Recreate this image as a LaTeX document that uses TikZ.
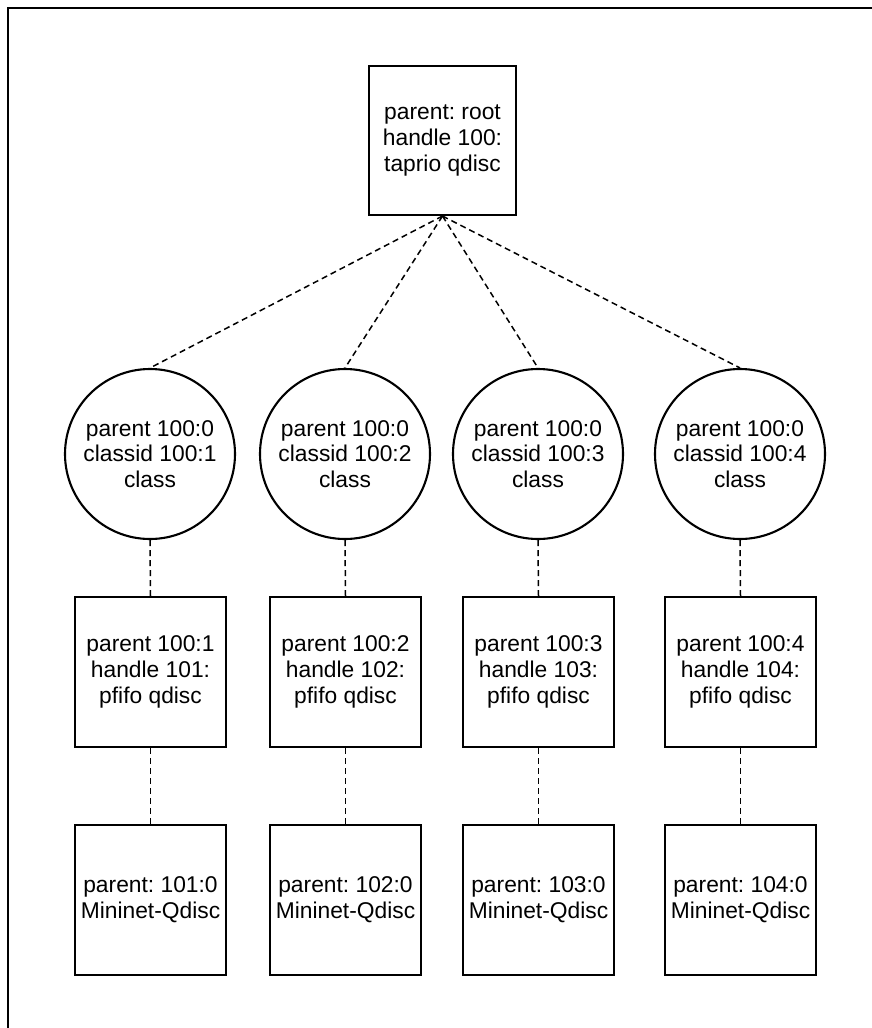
\documentclass[tikz,border=0pt]{standalone}
\usepackage{fontspec}
\setmainfont{Liberation Sans}
\frenchspacing
\begin{document}
\begin{tikzpicture}[x=1pt,y=-1pt,
  every node/.style={font=\fontsize{22.8}{25.8}\selectfont, align=center, inner sep=0pt},
  boxnode/.style={draw, line width=2.1pt, minimum width=151pt, minimum height=150pt},
  topbox/.style={draw, line width=2.1pt, minimum width=147pt, minimum height=149pt},
  classnode/.style={draw, circle, line width=2.1pt, minimum size=170pt},
  link/.style={dash pattern=on 6pt off 4pt, line width=1.5pt},
  frameline/.style={line width=2pt}]
\useasboundingbox (0,0) rectangle (872,1028);
\clip (0,0) rectangle (872,1028);
\draw[frameline] (8,1100) -- (8,8) -- (900,8);

\node[topbox] (root) at (442.5,140.5) {parent: root\\handle 100:\\taprio qdisc};

\node[classnode] (c1) at (150,454) {parent 100:0\\classid 100:1\\class};
\node[classnode] (c2) at (345,454) {parent 100:0\\classid 100:2\\class};
\node[classnode] (c3) at (538,454) {parent 100:0\\classid 100:3\\class};
\node[classnode] (c4) at (740,454) {parent 100:0\\classid 100:4\\class};

\node[boxnode] (p1) at (150.5,672) {parent 100:1\\handle 101:\\pfifo qdisc};
\node[boxnode] (p2) at (345.5,672) {parent 100:2\\handle 102:\\pfifo qdisc};
\node[boxnode] (p3) at (538.5,672) {parent 100:3\\handle 103:\\pfifo qdisc};
\node[boxnode] (p4) at (740.5,672) {parent 100:4\\handle 104:\\pfifo qdisc};

\node[boxnode] (m1) at (150.5,900) {parent: 101:0\\Mininet-Qdisc};
\node[boxnode] (m2) at (345.5,900) {parent: 102:0\\Mininet-Qdisc};
\node[boxnode] (m3) at (538.5,900) {parent: 103:0\\Mininet-Qdisc};
\node[boxnode] (m4) at (740.5,900) {parent: 104:0\\Mininet-Qdisc};

\foreach \i in {1,2,3,4} {
  \draw[link] (root.south) -- (c\i.north);
  \draw[link] (c\i.south) -- (p\i.north);
  \draw[link] (p\i.south) -- (m\i.north);
}
\end{tikzpicture}
\end{document}
